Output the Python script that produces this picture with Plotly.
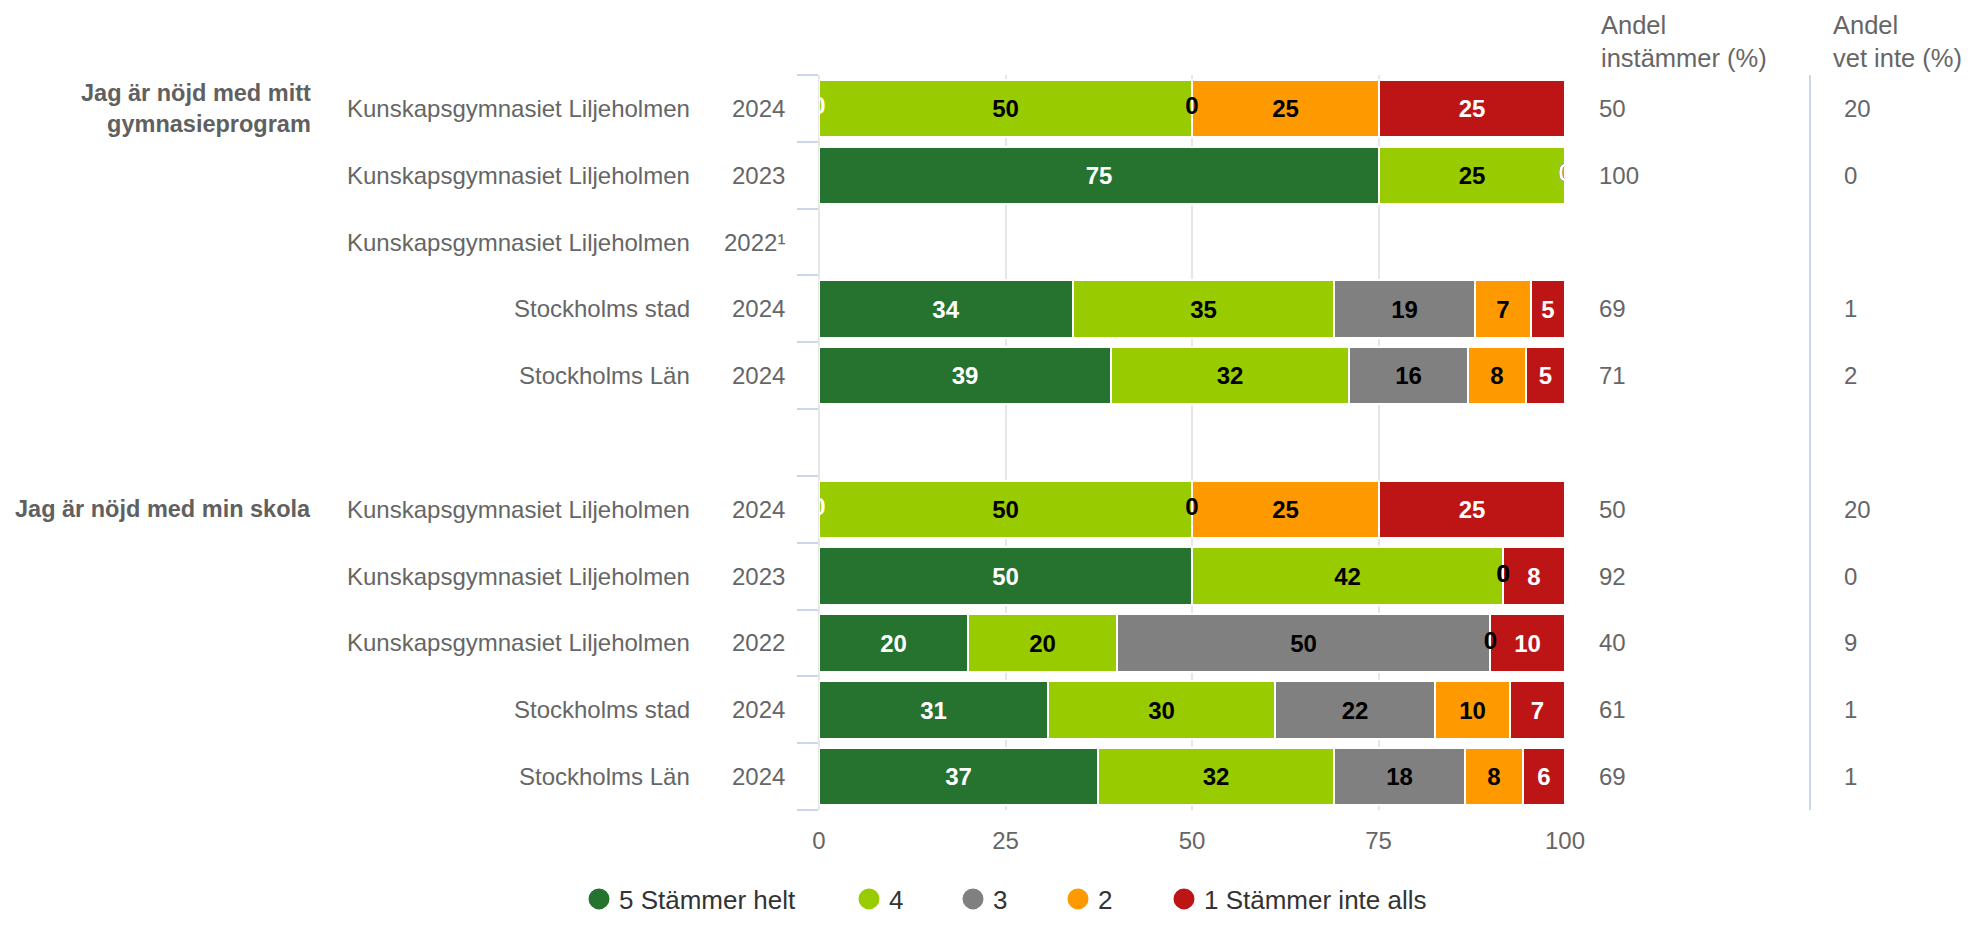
import plotly.graph_objects as go

# ---------------- data ----------------
series_names = ["5 Stämmer helt", "4", "3", "2", "1 Stämmer inte alls"]
series_colors = ["#26732f", "#99cc00", "#808080", "#ff9900", "#bd1515"]
label_colors = ["#ffffff", "#000000", "#000000", "#000000", "#ffffff"]

group_labels = ["Jag är nöjd med mitt<br>gymnasieprogram", "Jag är nöjd med min skola"]
group_rows = [0, 6]

row_units = ["Kunskapsgymnasiet Liljeholmen", "Kunskapsgymnasiet Liljeholmen",
             "Kunskapsgymnasiet Liljeholmen", "Stockholms stad", "Stockholms Län", "",
             "Kunskapsgymnasiet Liljeholmen", "Kunskapsgymnasiet Liljeholmen",
             "Kunskapsgymnasiet Liljeholmen", "Stockholms stad", "Stockholms Län"]
row_years = ["2024", "2023", "2022¹", "2024", "2024", "",
             "2024", "2023", "2022", "2024", "2024"]

# share (%) per answer, one value per row (None = no data / spacer row)
s5 = [0, 75, None, 34.1, 39.2, None, 0, 50, 20, 30.7, 37.4]
s4 = [50, 25, None, 35.0, 31.9, None, 50, 41.7, 20, 30.4, 31.6]
s3 = [0, 0, None, 18.9, 15.9, None, 0, 0, 50, 21.5, 17.6]
s2 = [25, 0, None, 7.4, 7.8, None, 25, 0, 0, 10.0, 7.8]
s1 = [25, 0, None, 4.6, 5.2, None, 25, 8.3, 10, 7.4, 5.6]
series_values = [s5, s4, s3, s2, s1]

andel_instammer = [50, 100, None, 69, 71, None, 50, 92, 40, 61, 69]
andel_vet_inte = [20, 0, None, 1, 2, None, 20, 0, 9, 1, 1]

x_ticks = [0, 25, 50, 75, 100]

# ---------------- layout constants (page pixels; body has an 8px margin) ----------------
OFF = 8
W, H = 1975 - 2 * OFF, 925 - 2 * OFF
PLOT_L, PLOT_R, PLOT_T, PLOT_B = 819, 1565, 75, 810
L = PLOT_L - OFF
T = PLOT_T - OFF
PW = PLOT_R - PLOT_L
PH = PLOT_B - PLOT_T
R = W - L - PW
B = H - T - PH
FONT = "Liberation Sans, Arial, Helvetica, sans-serif"
GRAY = "#666666"


def px_x(px):
    return (px - PLOT_L) / PW


def px_y(py):
    return (PLOT_B - py) / PH


rows = list(range(len(row_units)))
n_rows = len(rows)

fig = go.Figure()

# stacked bars
for name, vals, col, lcol in zip(series_names, series_values, series_colors, label_colors):
    fig.add_trace(go.Bar(
        orientation="h", y=rows, x=vals, name=name,
        marker=dict(color=col, line=dict(color="#ffffff", width=2)),
        width=0.86,
        text=[("" if v is None or v == 0 else f"{v:.0f}") for v in vals],
        textposition="inside", insidetextanchor="middle", textangle=0,
        textfont=dict(family=FONT, size=24, color=lcol, weight="bold"),
        showlegend=False, hoverinfo="skip",
    ))

# labels for zero-width segments (drawn at the segment's start)
cum = [0.0] * n_rows
for name, vals, lcol in zip(series_names, series_values, label_colors):
    zx, zy = [], []
    for i, v in enumerate(vals):
        if v is None:
            continue
        if v == 0:
            zx.append(cum[i])
            zy.append(i)
        cum[i] += v
    if zx:
        fig.add_trace(go.Scatter(
            x=zx, y=zy, mode="text", text=["0"] * len(zx), textposition="middle center",
            textfont=dict(family=FONT, size=24, color=lcol, weight="bold"),
            showlegend=False, hoverinfo="skip", cliponaxis=True,
        ))

# legend entries (circles), one legend box per entry so spacing matches
legend_left_px = [579, 849, 953, 1058, 1164]
legend_ids = ["legend", "legend2", "legend3", "legend4", "legend5"]
for name, col, lid in zip(series_names, series_colors, legend_ids):
    fig.add_trace(go.Scatter(
        x=[None], y=[None], mode="markers", name=name, legend=lid,
        marker=dict(symbol="circle", size=16, color=col, line=dict(color=col, width=5)),
        showlegend=True, hoverinfo="skip",
    ))

annotations = []
# row labels
for i in rows:
    if row_units[i]:
        annotations.append(dict(x=px_x(692), xref="paper", y=i, yref="y", text=row_units[i],
                                xanchor="right", yanchor="middle", showarrow=False,
                                font=dict(family=FONT, size=24, color=GRAY)))
        annotations.append(dict(x=px_x(787), xref="paper", y=i, yref="y", text=row_years[i],
                                xanchor="right", yanchor="middle", showarrow=False,
                                font=dict(family=FONT, size=24, color=GRAY)))
    if andel_instammer[i] is not None:
        annotations.append(dict(x=px_x(1597), xref="paper", y=i, yref="y", text=str(andel_instammer[i]),
                                xanchor="left", yanchor="middle", showarrow=False,
                                font=dict(family=FONT, size=24, color=GRAY)))
    if andel_vet_inte[i] is not None:
        annotations.append(dict(x=px_x(1842), xref="paper", y=i, yref="y", text=str(andel_vet_inte[i]),
                                xanchor="left", yanchor="middle", showarrow=False,
                                font=dict(family=FONT, size=24, color=GRAY)))
# group labels
for g, r in zip(group_labels, group_rows):
    annotations.append(dict(x=px_x(313), xref="paper", y=r, yref="y", text=g,
                            xanchor="right", yanchor="middle", align="right", showarrow=False,
                            font=dict(family=FONT, size=23.5, color="#606060", weight="bold")))
# column headers
annotations.append(dict(x=px_x(1599), xref="paper", y=px_y(42), yref="paper",
                        text="Andel<br>instämmer (%)", xanchor="left", yanchor="middle",
                        align="left", showarrow=False, font=dict(family=FONT, size=25.5, color=GRAY)))
annotations.append(dict(x=px_x(1831), xref="paper", y=px_y(42), yref="paper",
                        text="Andel<br>vet inte (%)", xanchor="left", yanchor="middle",
                        align="left", showarrow=False, font=dict(family=FONT, size=25.5, color=GRAY)))

shapes = [dict(type="line", xref="paper", yref="paper", x0=px_x(1810), x1=px_x(1810),
               y0=0, y1=1, line=dict(color="#ccd6eb", width=2))]

legend_layout = {}
for lid, lx in zip(legend_ids, legend_left_px):
    legend_layout[lid] = dict(orientation="h", x=px_x(lx), xanchor="left", y=px_y(899),
                              yanchor="middle", bgcolor="rgba(0,0,0,0)", borderwidth=0,
                              font=dict(family=FONT, size=26, color="#333333"))

fig.update_layout(
    width=W, height=H,
    margin=dict(l=L, r=R, t=T, b=B, autoexpand=False),
    paper_bgcolor="#ffffff", plot_bgcolor="#ffffff",
    barmode="stack", bargap=0,
    font=dict(family=FONT, size=24, color=GRAY),
    uniformtext=dict(minsize=24, mode="show"),
    xaxis=dict(range=[0, 100], tickvals=x_ticks, ticktext=[str(t) for t in x_ticks],
               showgrid=True, gridcolor="#e6e6e6", gridwidth=2,
               zeroline=True, zerolinecolor="#e6e6e6", zerolinewidth=2,
               showline=False, ticks="", ticklabelstandoff=14, automargin=False,
               tickfont=dict(family=FONT, size=24, color=GRAY), fixedrange=True),
    yaxis=dict(range=[n_rows - 0.5, -0.5], tickvals=[i - 0.5 for i in range(n_rows + 1)],
               showticklabels=False, ticks="outside", ticklen=21, tickwidth=2,
               tickcolor="#ccd6eb", showgrid=False, zeroline=False, showline=False,
               automargin=False, fixedrange=True),
    annotations=annotations, shapes=shapes,
    **legend_layout,
)

fig.write_html("out.html")
